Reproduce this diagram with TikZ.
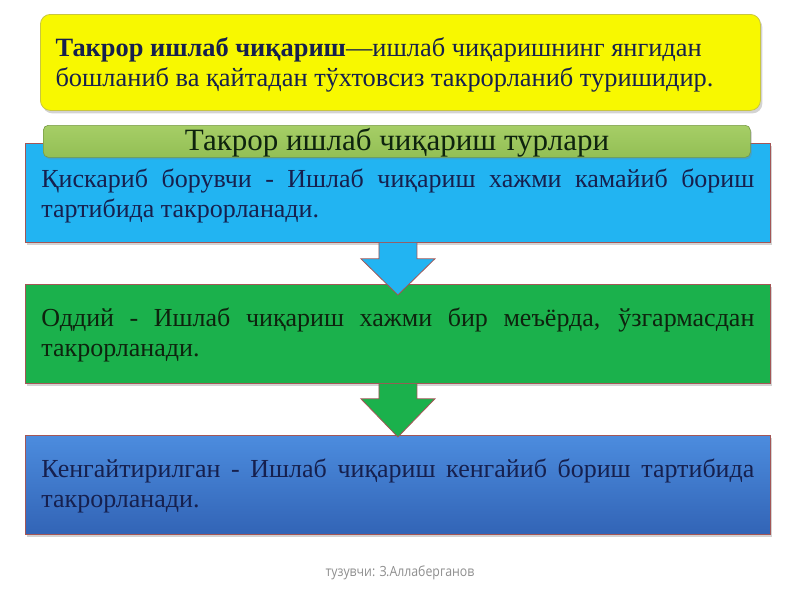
\documentclass[tikz,border=0pt]{standalone}
\usepackage{fontspec}
\setmainfont{Liberation Serif}
\newfontfamily\footfont[FakeStretch=0.88]{Open Sans}
\usetikzlibrary{shadows,calc}
\definecolor{ybox}{HTML}{F8F800}
\definecolor{yedge}{HTML}{C9C640}
\definecolor{tbar}{HTML}{93BF55}
\definecolor{tbartop}{HTML}{A6CE66}
\definecolor{cyanbox}{HTML}{22B4F2}
\definecolor{greenbox}{HTML}{1BB14C}
\definecolor{bluetop}{HTML}{4C8CDE}
\definecolor{bluebot}{HTML}{3264B6}
\definecolor{edge}{HTML}{A35656}
\definecolor{navy}{HTML}{16204E}
\definecolor{dkgreen}{HTML}{0E230E}
\definecolor{footgray}{HTML}{8E8E8E}
\tikzset{
  panel/.style={draw=edge, line width=0.8pt, anchor=north west, minimum width=745pt, minimum height=99pt, inner sep=0pt,
    drop shadow={opacity=0.35, shadow xshift=2pt, shadow yshift=-3pt}},
  bodytext/.style={text width=713pt, align=justify, font=\fontsize{26}{29.5}\selectfont},
  arrowshape/.style={draw=edge, line width=0.8pt, line join=miter}
}
\begin{document}
\begin{tikzpicture}[x=1pt,y=-1pt]
\useasboundingbox (0,0) rectangle (800,600);
% definition box
\node[draw=yedge, line width=0.8pt, fill=ybox, rounded corners=10pt, anchor=north west, minimum width=720pt, minimum height=96pt,
  drop shadow={opacity=0.35, shadow xshift=2pt, shadow yshift=-3pt}] (def) at (40,14) {};
\node[anchor=west, text=navy, align=left, font=\fontsize{26.4}{30}\selectfont] (deftext) at (52,65)
  {\textbf{Такрор ишлаб чиқариш}—ишлаб чиқаришнинг янгидан\\бошланиб ва қайтадан тўхтовсиз такрорланиб туришидир.};
% three panels
\node[panel, fill=cyanbox] (b1) at (25,143) {};
\node[panel, fill=greenbox] (b2) at (25,284) {};
\node[panel, top color=bluetop, bottom color=bluebot] (b3) at (25,435) {};
% arrows
\filldraw[arrowshape, fill=cyanbox] ($(b1.south)+(-19,0)$) -- ($(b1.south)+(-19,16)$) -- ($(b1.south)+(-37,16)$)
  -- ($(b2.north)+(0,11)$) -- ($(b1.south)+(37,16)$) -- ($(b1.south)+(19,16)$) -- ($(b1.south)+(19,0)$);
\filldraw[arrowshape, fill=greenbox] ($(b2.south)+(-19,0)$) -- ($(b2.south)+(-19,15)$) -- ($(b2.south)+(-37,15)$)
  -- ($(b3.north)+(0,2)$) -- ($(b2.south)+(37,15)$) -- ($(b2.south)+(19,15)$) -- ($(b2.south)+(19,0)$);
% title bar
\node[draw=tbar!80!black, line width=0.6pt, top color=tbartop, bottom color=tbar, rounded corners=5pt, anchor=north west,
  minimum width=707pt, minimum height=32pt, inner sep=0pt,
  drop shadow={opacity=0.3, shadow xshift=1.5pt, shadow yshift=-2pt}] (title) at (43,125) {};
\node[font=\fontsize{31}{34}\selectfont, text=dkgreen, anchor=base, inner sep=0pt] (titletext) at (397,150) {Такрор ишлаб чиқариш турлари};
% panel texts
\node[bodytext, text=navy] (t1) at ($(b1.center)+(0,3)$) {Қискариб борувчи - Ишлаб чиқариш хажми камайиб бориш\linebreak тартибида такрорланади.};
\node[bodytext, text=dkgreen] (t2) at ($(b2.center)+(0,1)$) {Оддий - Ишлаб чиқариш хажми бир меъёрда, ўзгармасдан\linebreak такрорланади.};
\node[bodytext, text=navy] (t3) at ($(b3.center)+(0,1)$) {Кенгайтирилган - Ишлаб чиқариш кенгайиб бориш тартибида\linebreak такрорланади.};
% footer
\node[font=\footfont\fontsize{14}{16}\selectfont, text=footgray] (foot) at (400,573) {тузувчи: З.Аллаберганов};
\end{tikzpicture}
\end{document}
